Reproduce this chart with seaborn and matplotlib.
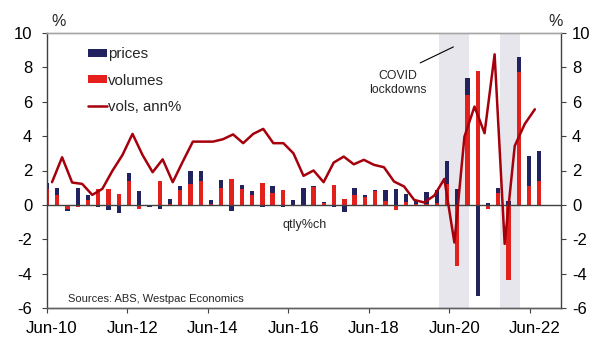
import numpy as np
import pandas as pd
import matplotlib
matplotlib.use("Agg")
import matplotlib.pyplot as plt
import seaborn as sns
from matplotlib.patches import Patch
from matplotlib.lines import Line2D

# Quarterly observations, Jun-10 to Jun-22
quarters = pd.period_range("2010Q2", "2022Q2", freq="Q")

# Quarterly % change: volume and price contributions
volumes = [0.93, 0.56, -0.23, -0.15, 0.30, 0.93, 0.91, 0.66, 1.40, -0.23,
           0.02, 1.41, 0.07, 0.87, 1.20, 1.40, 0.06, 0.99, 1.49, 0.91,
           0.56, 1.30, 0.70, 0.87, 0.02, 0.00, 1.05, 0.13, 1.14, 0.33,
           0.56, 0.43, 0.83, 0.23, -0.29, 0.14, 0.05, 0.06, 0.10, 1.20,
           -3.58, 6.40, 7.81, -0.25, 0.68, -4.36, 7.75, 1.07, 1.40]
prices = [0.33, 0.41, -0.10, 1.00, 0.27, -0.12, -0.29, -0.45, 0.44, 0.78,
          -0.12, -0.25, 0.30, 0.20, 0.76, 0.56, 0.21, 0.48, -0.33, 0.25,
          0.22, -0.14, 0.39, -0.14, 0.27, 0.97, 0.04, 0.04, -0.10, -0.39,
          0.41, 0.13, 0.04, 0.64, 0.95, 0.50, 0.25, 0.70, 0.78, 1.36,
          0.91, 0.97, -5.33, 0.10, 0.29, 0.23, 0.83, 1.78, 1.76]

# Annual % change in volumes
vols_ann = [1.32, 2.77, 1.30, 1.22, 0.58, 0.93, 1.98, 2.90, 4.13, 2.90,
            1.90, 2.65, 1.32, 2.52, 3.68, 3.68, 3.68, 3.82, 4.10, 3.59,
            4.13, 4.42, 3.59, 3.59, 3.00, 1.69, 2.00, 1.32, 2.46, 2.81,
            2.36, 2.62, 2.33, 2.19, 1.36, 1.07, 0.29, 0.14, 0.54, 1.51,
            -2.19, 3.97, 5.72, 4.17, 8.76, -2.27, 3.43, 4.71, 5.56]

tick_labels = ["Jun-10", "Jun-12", "Jun-14", "Jun-16", "Jun-18", "Jun-20", "Jun-22"]
y_ticks = [-6, -4, -2, 0, 2, 4, 6, 8, 10]
lockdowns = [("2020Q1", "2020Q4"), ("2021Q3", "2022Q1")]

NAVY = "#22235E"
RED = "#E3201B"
LINE = "#A5000B"
SHADE = "#E6E6EC"
AXIS = "#404040"

sns.set_theme(style="white")
plt.rcParams["font.family"] = ["Liberation Sans", "DejaVu Sans"]
plt.rcParams["axes.unicode_minus"] = False

fig = plt.figure(figsize=(5.93, 3.37), dpi=100)
ax = fig.add_axes([47 / 593, 1 - 308 / 337, 514 / 593, 275 / 337])

# quarter offsets from the first observation
q = np.array([(p - quarters[0]).n for p in quarters])
BAR_STEP = 1.0195  # bars sit on a category axis slightly wider than a date quarter

vol = np.array(volumes)
pri = np.array(prices)
same_sign = np.sign(vol) == np.sign(pri)
df = pd.DataFrame({
    "pos": q * BAR_STEP,
    "volumes": vol,
    "price_top": pri + np.where(same_sign, vol, 0.0),
})

# lockdown shading
for a, b in lockdowns:
    x0 = (pd.Period(a, freq="Q") - quarters[0]).n
    x1 = (pd.Period(b, freq="Q") - quarters[0]).n
    ax.axvspan(x0, x1, color=SHADE, lw=0, zorder=0)

# stacked bars: prices stacked beyond volumes when they share a sign
sns.barplot(data=df, x="pos", y="price_top", native_scale=True, orient="x",
            color=NAVY, saturation=1, width=0.42, errorbar=None,
            linewidth=0, ax=ax, zorder=2)
sns.barplot(data=df, x="pos", y="volumes", native_scale=True, orient="x",
            color=RED, saturation=1, width=0.42, errorbar=None,
            linewidth=0, ax=ax, zorder=2)

ax.axhline(0, color=AXIS, lw=1.0, zorder=2.5)

sns.lineplot(x=q + 0.5, y=vols_ann, color=LINE, linewidth=1.8, ax=ax, zorder=3)

ax.set_xlim(0, 51.1)
ax.set_ylim(-6, 10)
ax.set_xlabel("")
ax.set_ylabel("")

# x axis: tick marks every two years, labels centred half a quarter later
major = np.arange(0, 49, 8)
ax.set_xticks(major)
ax.set_xticklabels([])
ax.set_xticks(major + 0.5, minor=True)
ax.set_xticklabels(tick_labels, minor=True)
ax.tick_params(axis="x", which="major", bottom=True, direction="out",
               length=3.5, width=0.8, color=AXIS)
ax.tick_params(axis="x", which="minor", bottom=True, length=0,
               labelsize=12.2, pad=9.5, labelcolor="black")

ax.set_yticks(y_ticks)
ax.set_yticklabels([str(t) for t in y_ticks])
ax.tick_params(axis="y", left=True, direction="out", length=3.6, width=0.8,
               color=AXIS, labelsize=12, pad=7, labelcolor="black")

ax2 = ax.twinx()
ax2.set_ylim(-6, 10)
ax2.set_yticks(y_ticks)
ax2.set_yticklabels([str(t) for t in y_ticks])
ax2.tick_params(axis="y", right=True, direction="out", length=3.6, width=0.8,
                color=AXIS, labelsize=12, pad=4.3, labelcolor="black")

for a in (ax, ax2):
    a.spines["top"].set_color("#A6A6A6")
    a.spines["bottom"].set_color("#606060")
    a.spines["left"].set_color(AXIS)
    a.spines["right"].set_color(AXIS)
    for s in a.spines.values():
        s.set_linewidth(1.0)
ax.spines["right"].set_visible(False)
ax2.spines["left"].set_visible(False)

# legend
handles = [Patch(facecolor=NAVY, edgecolor="none", label="prices"),
           Patch(facecolor=RED, edgecolor="none", label="volumes"),
           Line2D([], [], color=LINE, lw=1.8, label="vols, ann%")]
ax.legend(handles=handles, loc="upper left", bbox_to_anchor=(0.0798, 0.948),
          frameon=False, fontsize=10.8, borderpad=0, borderaxespad=0,
          handlelength=1.25, handleheight=0.48, handletextpad=0.1,
          labelspacing=0.82)

# annotations
ax.text(34.9, 7.09, "COVID\nlockdowns", ha="center", va="center",
        fontsize=8.8, linespacing=1.2, zorder=4)
ax.plot([37.1, 40.4], [8.26, 9.19], color="black", lw=0.8, zorder=4)
ax.text(25.65, -1.16, "qtly%ch", ha="center", va="center", fontsize=9, zorder=4)
ax.text(2.1, -5.47, "Sources: ABS, Westpac Economics", ha="left", va="center",
        fontsize=8, zorder=4)

fig.text(59 / 593, 1 - 21 / 337, "%", ha="center", va="center", fontsize=11.5)
fig.text(556 / 593, 1 - 21 / 337, "%", ha="center", va="center", fontsize=11.5)

fig.savefig("out.png", dpi=100)
